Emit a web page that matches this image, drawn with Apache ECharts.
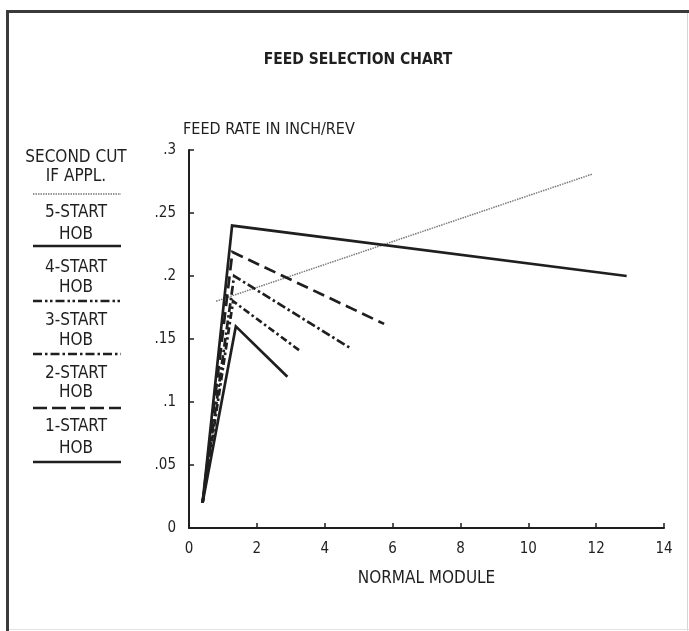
<!DOCTYPE html>
<html>
<head>
<meta charset="utf-8">
<title>Feed Selection Chart</title>
<script src="https://cdn.jsdelivr.net/npm/echarts@6/dist/echarts.min.js"></script>
<style>
  html, body { margin: 0; padding: 0; background: #ffffff; }
  #chart { width: 689px; height: 631px; }
</style>
</head>
<body>
<div id="chart"></div>
<script>
// Axis ticks
const xTicks = [0, 2, 4, 6, 8, 10, 12, 14];
const yTickLabels = ['0', '.05', '.1', '.15', '.2', '.25', '.3'];

// Feed rate (inch/rev) against normal module, one polyline per hob type
const start5 = [[0.4, 0.02], [1.27, 0.24], [12.9, 0.2]];
const start4 = [[0.4, 0.02], [1.28, 0.219], [5.75, 0.162]];
const start3 = [[0.4, 0.02], [1.33, 0.2], [4.8, 0.142]];
const start2 = [[0.4, 0.02], [1.3, 0.18], [3.3, 0.14]];
const start1 = [[0.4, 0.02], [1.38, 0.16], [2.9, 0.12]];
const secondCut = [[0.8, 0.18], [11.9, 0.281]];

const legendNames = ['SECOND CUT|IF APPL.', '5-START|HOB', '4-START|HOB', '3-START|HOB', '2-START|HOB', '1-START|HOB'];

const INK = '#1f1f1f';
const FONT = '"DejaVu Sans Condensed", "Liberation Sans Narrow", "Roboto", sans-serif';

const DOTS = [1.5, 1];
const DASH = [12, 6];
const DASH_DOT = [9, 3, 2.5, 3];
const DASH_DOT2 = [7, 3, 2.5, 3];
const DASH_DOT_DOT = [9, 3, 2.5, 2.5, 2.5, 3];

function lineSeries(name, data, type, width, color) {
  return {
    name: name,
    type: 'line',
    data: data,
    symbol: 'none',
    silent: true,
    lineStyle: { color: color, width: width, type: type, cap: 'butt', join: 'miter' },
    z: 3
  };
}

// Left-hand key: two lines of text, then a sample of the line style
const keyStyles = [
  { dash: DOTS, width: 1.5, color: '#777777' },
  { dash: null, width: 2.5, color: INK },
  { dash: DASH_DOT_DOT, width: 2.5, color: INK },
  { dash: DASH_DOT, width: 2.5, color: INK },
  { dash: [14, 5], width: 2.5, color: INK },
  { dash: null, width: 2.5, color: INK }
];
const keyRow1 = [158, 213, 268, 321, 374, 427];
const keyRow2 = [177, 235, 288, 341, 393, 449];
const keyLineY = [194, 246, 301, 354, 408, 462];
const keyGraphics = [];
legendNames.forEach(function (n, i) {
  const parts = n.split('|');
  [parts[0], parts[1]].forEach(function (t, k) {
    keyGraphics.push({
      type: 'text',
      x: 76, y: k === 0 ? keyRow1[i] : keyRow2[i],
      style: { text: t, fill: INK, font: '17px ' + FONT, align: 'center', verticalAlign: 'middle' }
    });
  });
  keyGraphics.push({
    type: 'line',
    shape: { x1: 33, y1: keyLineY[i], x2: 121, y2: keyLineY[i] },
    style: { stroke: keyStyles[i].color, lineWidth: keyStyles[i].width, lineDash: keyStyles[i].dash }
  });
});

// Page frame
const frame = [
  { type: 'line', shape: { x1: 6, y1: 11.5, x2: 689, y2: 11.5 }, style: { stroke: '#3a3a3a', lineWidth: 3 } },
  { type: 'line', shape: { x1: 7.5, y1: 10, x2: 7.5, y2: 631 }, style: { stroke: '#3a3a3a', lineWidth: 3 } },
  { type: 'line', shape: { x1: 687.5, y1: 13, x2: 687.5, y2: 631 }, style: { stroke: '#d4d4d4', lineWidth: 1 } },
  { type: 'line', shape: { x1: 9, y1: 629.5, x2: 689, y2: 629.5 }, style: { stroke: '#e2e2e2', lineWidth: 1 } }
];

const chart = echarts.init(document.getElementById('chart'), null, { renderer: 'canvas' });
chart.setOption({
  animation: false,
  backgroundColor: '#ffffff',
  title: {
    text: 'FEED SELECTION CHART',
    left: 353, top: 47, textAlign: 'center',
    textStyle: { fontFamily: FONT, fontSize: 15.5, fontWeight: 'bold', color: INK }
  },
  grid: { left: 189, right: 25, top: 150, bottom: 103, containLabel: false },
  xAxis: {
    type: 'value', min: 0, max: 14, interval: 2,
    name: 'NORMAL MODULE', nameLocation: 'middle', nameGap: 42,
    nameTextStyle: { fontFamily: FONT, fontSize: 17, color: INK },
    axisLine: { show: true, lineStyle: { color: INK, width: 2 } },
    axisTick: { show: true, inside: true, length: 5, lineStyle: { color: INK, width: 1.5 } },
    axisLabel: {
      margin: 14, fontFamily: FONT, fontSize: 15, color: INK,
      formatter: function (v) { return xTicks.indexOf(v) >= 0 ? String(v) : ''; }
    },
    splitLine: { show: false }
  },
  yAxis: {
    type: 'value', min: 0, max: 0.3, interval: 0.05,
    name: 'FEED RATE IN INCH/REV', nameLocation: 'end', nameGap: 12,
    nameTextStyle: { fontFamily: FONT, fontSize: 16, color: INK, align: 'left', padding: [0, 0, 0, -6] },
    axisLine: { show: true, lineStyle: { color: INK, width: 2 } },
    axisTick: { show: true, inside: true, length: 5, lineStyle: { color: INK, width: 1.5 } },
    axisLabel: {
      margin: 13, fontFamily: FONT, fontSize: 15, color: INK,
      formatter: function (v, i) { return yTickLabels[i] !== undefined ? yTickLabels[i] : ''; }
    },
    splitLine: { show: false }
  },
  series: [
    lineSeries('SECOND CUT IF APPL.', secondCut, DOTS, 1.5, '#7a7a7a'),
    lineSeries('5-START HOB', start5, 'solid', 2.7, INK),
    lineSeries('4-START HOB', start4, DASH, 2.7, INK),
    lineSeries('3-START HOB', start3, DASH_DOT, 2.7, INK),
    lineSeries('2-START HOB', start2, DASH_DOT2, 2.7, INK),
    lineSeries('1-START HOB', start1, 'solid', 2.7, INK)
  ],
  graphic: frame.concat(keyGraphics)
});
</script>
</body>
</html>
